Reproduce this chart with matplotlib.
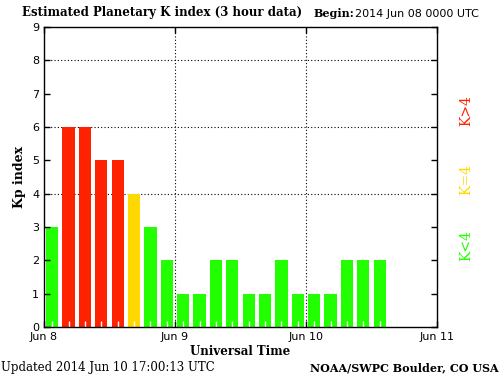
import numpy as np
import matplotlib
matplotlib.use("Agg")
import matplotlib.pyplot as plt

kp = [3, 6, 6, 5, 5, 4, 3, 2,
      1, 1, 2, 2, 1, 1, 2, 1,
      1, 1, 2, 2, 2]
day_labels = ["Jun 8", "Jun 9", "Jun 10", "Jun 11"]
red, yellow, green = "#ff2200", "#ffd800", "#22ff00"

hours = np.arange(len(kp)) * 3 + 1.5
colors = [red if k > 4 else (yellow if k == 4 else green) for k in kp]

fig = plt.figure(figsize=(5, 3.75), dpi=100)
ax = fig.add_axes([0.088, 0.128, 0.786, 0.8])

for y in [4, 6, 8]:
    ax.axhline(y, color="black", ls=(0, (1, 2)), lw=0.8, zorder=1)
for x in [24, 48]:
    ax.axvline(x, color="black", ls=(0, (1, 2)), lw=0.8, zorder=1)

ax.bar(hours, kp, width=2.25, color=colors, zorder=2)

ax.set_xlim(0, 72)
ax.set_ylim(0, 9)
ax.set_xticks([0, 24, 48, 72])
ax.set_xticklabels(day_labels, fontsize=8)
ax.set_xticks(hours, minor=True)
ax.set_yticks(range(10))
ax.set_yticklabels([str(i) for i in range(10)], fontsize=8)
ax.tick_params(axis="both", which="major", direction="in", length=4,
               top=True, right=True, width=1)
ax.tick_params(axis="x", which="minor", direction="in", length=4,
               color="white", width=1, top=False)
ax.set_axisbelow(False)

for s in ax.spines.values():
    s.set_linewidth(1)
    s.set_zorder(4)

serif = "DejaVu Serif"
ax.set_ylabel("Kp index", family=serif, fontweight="bold", fontsize=9)
ax.set_xlabel("Universal Time", family=serif, fontweight="bold", fontsize=8.5,
              labelpad=2)

fig.text(0.044, 0.958, "Estimated Planetary K index (3 hour data)",
         family=serif, fontweight="bold", fontsize=8.5)
fig.text(0.628, 0.955, "Begin:", family=serif, fontweight="bold", fontsize=8)
fig.text(0.71, 0.955, "2014 Jun 08 0000 UTC", fontsize=8)
fig.text(0.002, 0.01, "Updated 2014 Jun 10 17:00:13 UTC", family=serif,
         fontsize=8.5)
fig.text(0.998, 0.01, "NOAA/SWPC Boulder, CO USA", family=serif,
         fontweight="bold", fontsize=8, ha="right")

fig.text(0.932, 0.705, "K>4", color=red, rotation=90, family=serif,
         fontsize=10, ha="center", va="center")
fig.text(0.932, 0.52, "K=4", color=yellow, rotation=90, family=serif,
         fontsize=10, ha="center", va="center")
fig.text(0.932, 0.345, "K<4", color=green, rotation=90, family=serif,
         fontsize=10, ha="center", va="center")

fig.savefig("out.png", dpi=100)
